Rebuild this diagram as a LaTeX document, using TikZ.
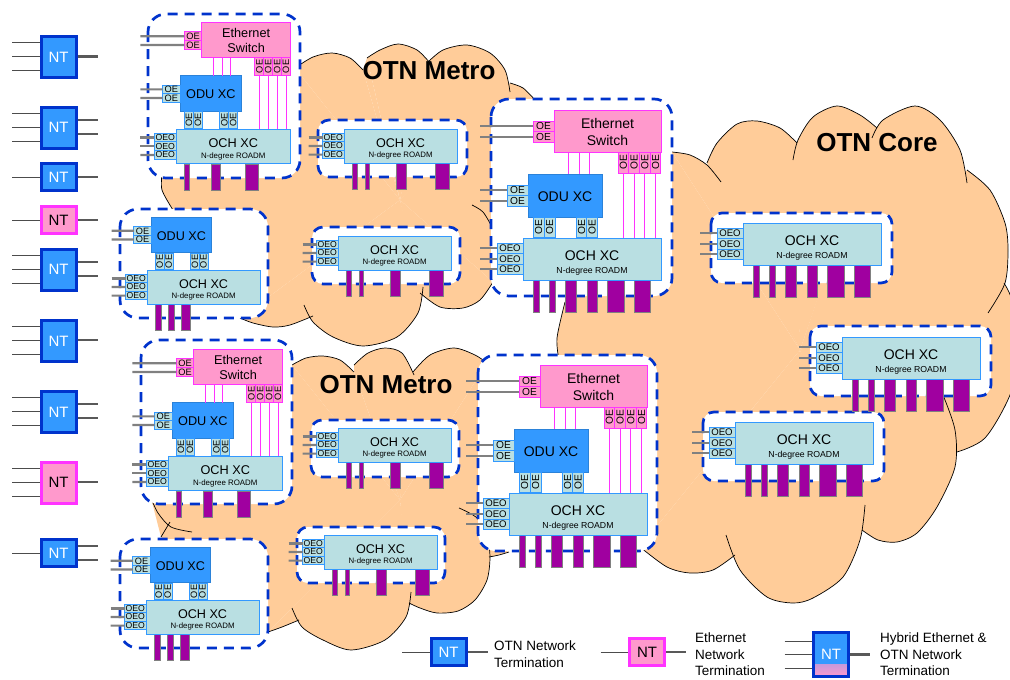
\documentclass[tikz,border=0pt]{standalone}
\usepackage{fontspec}
\setmainfont{Liberation Sans}

\definecolor{cloudpeach}{HTML}{FFCC99}
\definecolor{linkblue}{HTML}{0033CC}
\definecolor{odublue}{HTML}{3399FF}
\definecolor{ochteal}{HTML}{B9DFE2}
\definecolor{ethpink}{HTML}{FF99CC}
\definecolor{ethline}{HTML}{FF33FF}
\definecolor{barpurple}{HTML}{A000A0}
\definecolor{stubgrey}{HTML}{808080}

\def\xcf{14}\def\xcb{16.5}\def\ndf{8.7}\def\oef{10.2}\def\oeof{9.6}
% type sizes shrink less than the boxes do
\newcommand{\setxcfont}[1]{
    \pgfmathsetmacro{\xcr}{1+(1-#1)*0.55}
    \pgfmathsetmacro{\xcf}{14*\xcr}
    \pgfmathsetmacro{\xcb}{16.5*\xcr}
    \pgfmathsetmacro{\ndf}{8.7*\xcr}
    \pgfmathsetmacro{\oef}{10.2*\xcr}
    \pgfmathsetmacro{\oeof}{9.6*\xcr}
}

\tikzset{
    cloudfill/.style={fill=cloudpeach},
    cloudline/.style={draw=black,line width=0.7pt},
    cloudname/.style={font=\fontsize{26}{28}\selectfont\bfseries,inner sep=0pt},
    groupbig/.style={draw=linkblue,fill=white,line width=2.7pt,dash pattern=on 10pt off 7pt,rounded corners=18pt},
    groupsmall/.style={groupbig,rounded corners=11pt},
    xcbox/.style={draw,line width=1pt,inner sep=0pt,outer sep=0pt,align=center},
    ochbox/.style={xcbox,draw=odublue,fill=ochteal,minimum width=138pt,minimum height=42pt,anchor=north west},
    odubox/.style={xcbox,draw=odublue!85!black,fill=odublue,minimum width=74pt,minimum height=43pt,font=\fontsize{\xcf}{16}\selectfont},
    ethbox/.style={xcbox,draw=ethline,fill=ethpink,minimum width=107pt,minimum height=42pt,font=\fontsize{\xcf}{\xcb}\selectfont},
    oeobox/.style={xcbox,draw=odublue,fill=ochteal,minimum width=26pt,minimum height=10.5pt,font=\fontsize{\oeof}{10}\selectfont,anchor=east},
    oebox/.style={xcbox,draw=odublue,fill=ochteal,minimum width=21pt,minimum height=10.5pt,font=\fontsize{\oef}{10}\selectfont},
    oepink/.style={oebox,draw=ethline,fill=ethpink},
    barbox/.style={draw=stubgrey,line width=0.6pt,fill=barpurple,inner sep=0pt,outer sep=0pt,minimum height=32pt,anchor=north west},
    stub/.style={draw=stubgrey,line width=2.2pt},
    pinkline/.style={draw=ethline,line width=1pt},
    ntblue/.style={draw=linkblue,line width=3pt,fill=odublue,text=white,minimum width=35pt,inner sep=0pt,font=\fontsize{15}{16}\selectfont},
    ntpink/.style={ntblue,draw=ethline,fill=ethpink,text=black},
    ntin/.style={draw=black!70,line width=0.9pt},
    ntout/.style={draw=black!65,line width=2.2pt},
    legendtext/.style={anchor=west,align=left,inner sep=0pt,font=\fontsize{13.5}{16.5}\selectfont}
}

% one bump of a cloud, filled down to the cloud's centre, stroked in a later pass
\newcommand{\bumpfill}[1]{\fill[cloudfill] plot[smooth] coordinates {#1} -- (cloudcentre) -- cycle;}
\newcommand{\bumpline}[1]{\draw[cloudline] plot[smooth] coordinates {#1};}
\newcommand{\cloudshape}[2]{
    \coordinate (cloudcentre) at #1;
    \foreach \p in {#2}{\expandafter\bumpfill\expandafter{\p}}
    \foreach \p in {#2}{\expandafter\bumpline\expandafter{\p}}
}

% bar offset/width lists along the bottom of an OCH box
\def\barsix{10/6,26/6,42/11,64/10,84/17,111/16}
\def\barfour{10/6,26/5,64/12,111/17}
\def\barthreeA{10/6,42/11,84/15}
\def\barthreeB{10/7,26/7,42/11}

% {name}{x}{y}{scale}{bars}
\newcommand{\ochxc}[5]{
    \begin{scope}[shift={(#2,#3)},scale=#4,transform shape]
        \setxcfont{#4}
        \foreach \x/\w in #5 {
            \node[barbox,minimum width=\w pt] (#1bar\x) at (\x,42) {};
        }
        \node[ochbox] (#1och) at (0,0) {\rule{0pt}{17pt}\fontsize{\xcf}{14}\selectfont OCH XC\\[1pt]\fontsize{\ndf}{11}\selectfont N-degree ROADM};
        \foreach \y [count=\i] in {10.25,20.75,31.25} {
            \node[oeobox] (#1oeo\i) at (0,\y) {OEO};
            \coordinate (#1oeoin\i) at (-43,\y);
            \draw[stub] (#1oeoin\i) -- (#1oeo\i);
        }
    \end{scope}
}
\newcommand{\oduxc}[4]{
    \begin{scope}[shift={(#2,#3)},scale=#4,transform shape]
        \setxcfont{#4}
        \node[odubox] (#1odu) at (42,-42.5) {\rule{0pt}{12.5pt}ODU XC};
        \foreach \y [count=\i] in {-47.75,-37.25} {
            \node[oebox] (#1odue\i) at (-5.5,\y) {OE};
            \coordinate (#1oduin\i) at (-43,\y);
            \draw[stub] (#1oduin\i) -- (#1odue\i);
        }
        \foreach \x [count=\i] in {15.5,26.5,58.5,69} {
            \node[oebox,rotate=90,minimum width=20pt,minimum height=11pt] (#1oduv\i) at (\x,-10.5) {OE};
        }
    \end{scope}
}
\newcommand{\ethxc}[4]{
    \begin{scope}[shift={(#2,#3)},scale=#4,transform shape]
        \setxcfont{#4}
        \node[ethbox] (#1eth) at (84.5,-107) {\rule{0pt}{12.5pt}Ethernet\\Switch};
        \foreach \y [count=\i] in {-111.75,-101.25} {
            \node[oepink] (#1ethe\i) at (20.5,\y) {OE};
            \coordinate (#1ethin\i) at (-43,\y);
            \draw[stub] (#1ethin\i) -- (#1ethe\i);
        }
        \foreach \x in {45,56,66} {
            \coordinate (#1t\x) at (\x,-75);
            \draw[pinkline] (#1t\x |- #1eth.south) -- (#1t\x |- #1odu.north);
        }
        \foreach \x [count=\i] in {100.4,111.1,121.9,132.6} {
            \node[oepink,rotate=90,minimum width=21pt,minimum height=10.75pt] (#1ethv\i) at (\x,-75.5) {OE};
            \draw[pinkline] (#1ethv\i.west) -- (#1ethv\i.west |- #1och.north);
        }
    \end{scope}
}

% {name}{style}{x}{y}{height}{left rows}{right rows}
\newcommand{\ntunit}[7]{
    \node[#2,minimum height=#5pt] (#1) at (#3,#4) {NT};
    \foreach \y [count=\i] in {#6} {
        \coordinate (#1in\i) at (#3-46.5,\y);
        \draw[ntin] (#1in\i) -- (#1in\i -| #1.west);
    }
    \foreach \y [count=\i] in {#7} {
        \coordinate (#1out\i) at (#3+39,\y);
        \draw[ntout] (#1.east |- #1out\i) -- (#1out\i);
    }
}

\begin{document}
\begin{tikzpicture}[x=1pt,y=-1pt]
    \useasboundingbox (0,0) rectangle (1010,680);

    % clouds
    \fill[cloudfill] (672,152) -- (565,302) -- (559,360) -- (640,547) -- (800,350) -- cycle;
    \fill[cloudfill] (295,68) -- (162,173) -- (173,210) -- (240,318) -- (400,200) -- cycle;
    \fill[cloudfill] (510,92) -- (535,100) -- (535,280) -- (493,282) -- (400,200) -- cycle;
    \fill[cloudfill] (363,70) -- (367,58) -- (400,200) -- cycle;
    \fill[cloudfill] (292,365) -- (151,498) -- (161,537) -- (268,632) -- (400,500) -- cycle;
    \fill[cloudfill] (487,363) -- (520,400) -- (520,540) -- (490,557) -- (400,500) -- cycle;
    \fill[cloudfill] (354,372) -- (354,365) -- (414,375) -- (400,500) -- cycle;
    \cloudshape{(800,350)}{
        {(672,152) (690,155) (707,165) (721,182)},
        {(707,163) (717,143) (737,124) (757,121) (780,128) (797,143)},
        {(793,160) (798,140) (813,117) (837,106) (860,115) (877,128)},
        {(872,138) (883,120) (915,106) (940,120) (960,150) (967,183)},
        {(967,170) (990,190) (1005,223) (1008,250) (1005,283) (988,313)},
        {(1004,283) (1012,300) (1022,345) (1010,395) (985,438) (957,452)},
        {(943,395) (955,430) (955,467) (937,507) (917,533) (897,542) (878,540) (862,530)},
        {(865,505) (860,540) (843,577) (813,598) (793,603) (767,597) (740,570) (726,535)},
        {(735,555) (713,570) (690,573) (667,567) (640,547)},
        {(565,302) (557,338) (559,360)}}
    \cloudshape{(400,200)}{
        {(295,68) (313,57) (332,53) (350,58) (363,70)},
        {(367,58) (380,50) (398,44) (417,50) (430,63)},
        {(427,63) (443,50) (467,45) (490,53) (505,70) (510,92)},
        {(510,83) (523,88) (535,100)},
        {(472,205) (483,212) (492,227)},
        {(493,282) (480,300) (463,308) (440,307) (420,293)},
        {(423,287) (418,313) (397,337) (363,346) (333,337) (313,322) (304,305)},
        {(313,316) (290,325) (273,327) (253,323) (240,318)},
        {(162,173) (162,190) (173,210)}}
    \cloudshape{(400,500)}{
        {(292,365) (306,358) (323,356) (340,360) (354,372)},
        {(354,365) (368,353) (385,348) (402,353) (414,375)},
        {(413,372) (430,355) (454,348) (475,355) (487,363)},
        {(459,508) (477,518) (487,537) (490,557) (487,580) (475,600) (458,611) (437,613) (420,608) (409,603)},
        {(489,557) (499,555) (509,552)},
        {(411,592) (406,617) (385,640) (351,650) (323,640) (302,627) (292,608)},
        {(299,620) (282,627) (268,632)},
        {(151,498) (158,513) (171,527) (192,532)},
        {(170,522) (161,537)}}

    \node[cloudname] (metroa) at (429,71) {OTN Metro};
    \node[cloudname] (metrob) at (386,385) {OTN Metro};
    \node[cloudname] (core) at (877,143) {OTN Core};

    % dashed site outlines
    \draw[groupbig] (148,14) rectangle (300,178);
    \draw[groupbig] (120,209) rectangle (268,318);
    \draw[groupbig] (491,99) rectangle (672,296);
    \draw[groupbig] (141,340) rectangle (292,504);
    \draw[groupbig] (478,355) rectangle (657,551);
    \draw[groupbig] (120,539) rectangle (268,648);
    \draw[groupsmall] (318,120) rectangle (467,177);
    \draw[groupsmall] (312,227) rectangle (460,284);
    \draw[groupsmall] (311,420) rectangle (459,477);
    \draw[groupsmall] (297,527) rectangle (445,583);
    \draw[groupsmall] (711,213) rectangle (892,283);
    \draw[groupsmall] (810,326) rectangle (991,396);
    \draw[groupsmall] (703,412) rectangle (884,481);

    % switching sites
    \ochxc{sa}{176}{129}{0.83}{\barthreeA}
    \oduxc{sa}{176}{129}{0.83}
    \ethxc{sa}{176}{129}{0.83}
    \ochxc{sb}{147}{270}{0.82}{\barthreeB}
    \oduxc{sb}{147}{270}{0.82}
    \ochxc{sc}{523}{238}{1}{\barsix}
    \oduxc{sc}{523}{238}{1}
    \ethxc{sc}{523}{238}{1}
    \ochxc{sd}{168}{456}{0.83}{\barthreeA}
    \oduxc{sd}{168}{456}{0.83}
    \ethxc{sd}{168}{456}{0.83}
    \ochxc{se}{509}{493}{1}{\barsix}
    \oduxc{se}{509}{493}{1}
    \ethxc{se}{509}{493}{1}
    \ochxc{sf}{146}{600}{0.82}{\barthreeB}
    \oduxc{sf}{146}{600}{0.82}
    \ochxc{ra}{344}{129}{0.82}{\barfour}
    \ochxc{rb}{338}{236}{0.82}{\barfour}
    \ochxc{rc}{338}{428}{0.82}{\barfour}
    \ochxc{rd}{324}{535}{0.82}{\barfour}
    \ochxc{ca}{743}{223}{1}{\barsix}
    \ochxc{cb}{842}{337}{1}{\barsix}
    \ochxc{cc}{735}{422}{1}{\barsix}

    % network terminations
    \ntunit{nta}{ntblue}{58.5}{57}{41}{42.5,56.5,70.5}{56.5}
    \ntunit{ntb}{ntblue}{58.5}{127.5}{41}{113,127,141}{120,134}
    \ntunit{ntc}{ntblue}{58.5}{177}{27}{177}{177}
    \ntunit{ntd}{ntpink}{58.5}{220}{27}{220}{220}
    \ntunit{nte}{ntblue}{58.5}{269.5}{41}{255,269,283}{262,276}
    \ntunit{ntf}{ntblue}{58.5}{341}{41}{326,340,354}{340}
    \ntunit{ntg}{ntblue}{58.5}{412}{41}{397,411,425}{404,418}
    \ntunit{nth}{ntpink}{58.5}{482.5}{41}{468,482,496}{482}
    \ntunit{nti}{ntblue}{58.5}{553}{27}{553}{546,560}

    % legend
    \ntunit{lega}{ntblue}{448.5}{652}{27}{652}{652}
    \node[legendtext] (legatext) at (494,654) {OTN Network\\Termination};
    \ntunit{legb}{ntpink}{647}{652}{27}{652}{652}
    \node[legendtext] (legbtext) at (695,654.5) {Ethernet\\Network\\Termination};
    \ntunit{legc}{ntblue,path picture={\shade[top color=odublue,bottom color=ethpink] ([yshift=12pt]path picture bounding box.south west) rectangle (path picture bounding box.south east);}}{831}{654.5}{44}{641,654.5,668}{654.5}
    \node[legendtext] (legctext) at (880,654.5) {Hybrid Ethernet \&\\OTN Network\\Termination};
\end{tikzpicture}
\end{document}
